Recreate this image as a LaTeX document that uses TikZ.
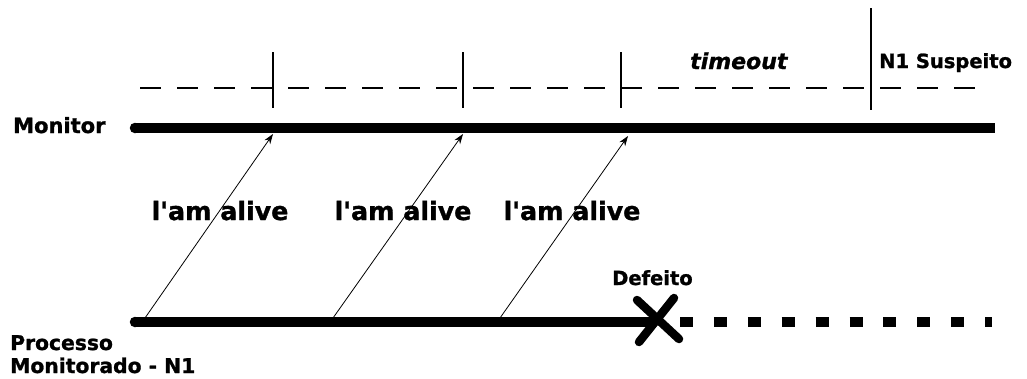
\documentclass[tikz,border=0pt]{standalone}
\usepackage{fontspec}
\setmainfont[Ligatures=TeXOff,BoldFeatures={FakeBold=1.2},BoldItalicFeatures={FakeBold=1.2}]{DejaVu Sans}
\usetikzlibrary{arrows.meta}
\newcommand{\fsz}[1]{\fontsize{#1}{#1}\selectfont\bfseries}
\begin{document}
\begin{tikzpicture}[x=1pt,y=-1pt,
  lbl/.style={inner sep=0pt,anchor=base west},
  big/.style={inner sep=0pt,font=\fsz{25.3},anchor=base},
  tick/.style={line width=1.2pt},
  msg/.style={line width=0.8pt,-{Stealth[length=10pt,width=7pt]}},
  timeline/.style={line width=10.5pt}]
\useasboundingbox (0,0) rectangle (1027,378);
% dashed time line
\coordinate (d0) at (140,88);
\coordinate (d1) at (985,88);
\draw[line width=1.2pt,dash pattern=on 21pt off 16pt] (d0) -- (d1);
% ticks
\coordinate (t1a) at (273,52); \coordinate (t1b) at (273,108);
\coordinate (t2a) at (463,52); \coordinate (t2b) at (463,108);
\coordinate (t3a) at (621,52); \coordinate (t3b) at (621,108);
\coordinate (t4a) at (871,8);  \coordinate (t4b) at (871,110);
\draw[tick] (t1a) -- (t1b);
\draw[tick] (t2a) -- (t2b);
\draw[tick] (t3a) -- (t3b);
\draw[tick] (t4a) -- (t4b);
% monitor line
\coordinate (m0) at (135,128);
\coordinate (m1) at (995,128);
\draw[timeline] (m0) -- (m1);
\fill (m0) circle (5.25pt);
% process line
\coordinate (p0) at (135,322);
\coordinate (p1) at (655,322);
\draw[timeline] (p0) -- (p1);
\fill (p0) circle (5.25pt);
\coordinate (q0) at (680,322);
\coordinate (q1) at (992,322);
\draw[timeline,dash pattern=on 13pt off 20.9pt] (q0) -- (q1);
% failure cross
\coordinate (xa) at (637,300); \coordinate (xb) at (679,339);
\coordinate (xc) at (674,298); \coordinate (xd) at (639,342);
\draw[line width=8.5pt,line cap=round] (xa) -- (xb);
\draw[line width=8.5pt,line cap=round] (xc) -- (xd);
% messages
\coordinate (s1) at (145,318); \coordinate (e1) at (273,134);
\coordinate (s2) at (333,318); \coordinate (e2) at (463,134);
\coordinate (s3) at (500,318); \coordinate (e3) at (628,136);
\draw[msg] (s1) -- (e1);
\draw[msg] (s2) -- (e2);
\draw[msg] (s3) -- (e3);
% labels
\node[big] (a1) at (220,220) {l'am alive};
\node[big] (a2) at (403,220) {l'am alive};
\node[big] (a3) at (572,220) {l'am alive};
\node[lbl,font=\fsz{21}] (mon) at (13,133) {Monitor};
\node[lbl,font=\fsz{22}\itshape] (to) at (690,69) {timeout};
\node[lbl,font=\fsz{19.5}] (sus) at (879,68) {N1 Suspeito};
\node[lbl,font=\fsz{19.5}] (def) at (612,285) {Defeito};
\node[lbl,font=\fsz{20.3}] (pr1) at (10,350) {Processo};
\node[lbl,font=\fsz{20.3}] (pr2) at (10,373) {Monitorado - N1};
\end{tikzpicture}
\end{document}
